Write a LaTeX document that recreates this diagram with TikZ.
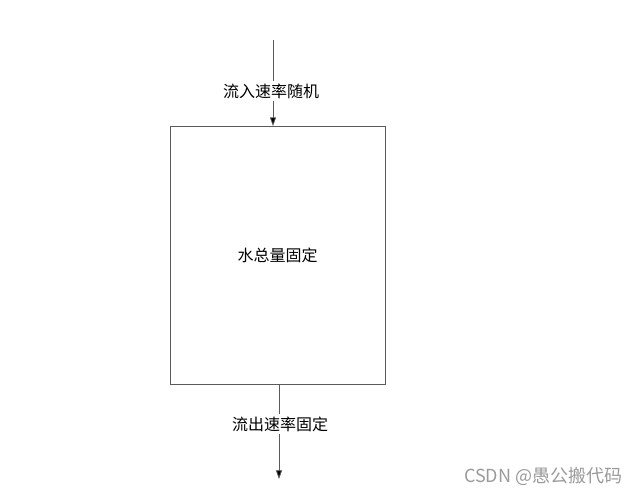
\documentclass[tikz,border=0pt]{standalone}
\usepackage{fontspec}
\setmainfont{Noto Sans CJK SC}
\definecolor{linegray}{HTML}{5A5A5A}
\definecolor{markgray}{HTML}{9A9A9A}
\usepackage{tikz}
\usetikzlibrary{arrows.meta, positioning, calc}

\tikzset{
  flowlabel/.style={fill=white, inner sep=2pt, font=\fontsize{12}{14}\selectfont},
  flowline/.style={draw=linegray, line width=0.6pt},
  flowarrow/.style={flowline, -{Triangle[length=6.5pt, width=4.5pt, fill=black]}}
}

\begin{document}
\begin{tikzpicture}[x=0.75pt, y=-0.75pt]
      \useasboundingbox (0,0) rectangle (642,494);
      % the tank
      \node[draw=linegray, line width=0.6pt, minimum width=161.25pt, minimum height=193.5pt,
            font=\fontsize{12}{14}\selectfont] (tank) at (277.5,255.5) {水总量固定};
      % inflow
      \coordinate (insrc) at (273,40);
      \node[flowlabel] (inlbl) at (271,91) {流入速率随机};
      \draw[flowline] (insrc) -- (insrc |- inlbl.north);
      \draw[flowarrow] (insrc |- inlbl.south) -- (insrc |- tank.north);
      % outflow
      \coordinate (outdst) at (279,479);
      \node[flowlabel] (outlbl) at (280,424) {流出速率固定};
      \draw[flowline] (outdst |- tank.south) -- (outdst |- outlbl.north);
      \draw[flowarrow] (outdst |- outlbl.south) -- (outdst);
      % watermark
      \node[text=markgray, font=\fontsize{13.5}{15}\selectfont, anchor=east] (mark) at (627,476) {CSDN @愚公搬代码};
\end{tikzpicture}
\end{document}
